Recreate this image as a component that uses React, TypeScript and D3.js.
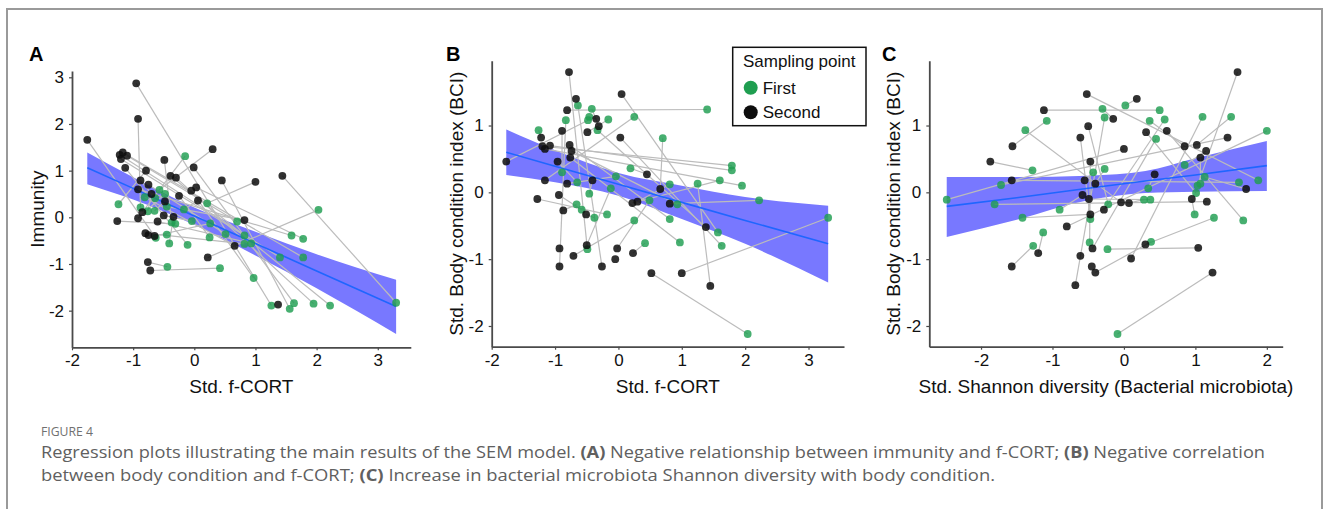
import React, { useEffect, useRef } from "react";
import * as d3 from "d3";

const FONT = "'Liberation Sans', Arial, Helvetica, sans-serif";
const CAPTION_FONT = "'Open Sans', 'Noto Sans', sans-serif";
const GREEN = "#1f9e50";
const BLACK = "#0d0d0d";

// ---- Panel A: immunity vs f-CORT (second = black, first = green) ----
const aSecondX = [-1.75, -0.95, -0.92, -1.22, -1.17, -1.1, -1.2, -1.13, -0.79, -0.49, 0.3, -0.01, -0.39, -0.3, -0.88, -0.75, -0.92, -0.7, -0.25, -0.05, 0.03, 0.06, -0.48, 0.45, 1.0, 1.44, -0.85, -0.5, -0.34, -1.26, -0.92, -0.6, 0.82, -0.8, -0.75, -0.65, 0.66, 0.22, -0.76, -0.72, 1.37];
const aSecondY = [1.66, 2.87, 2.11, 1.34, 1.39, 1.32, 1.25, 1.06, 1.0, 1.23, 1.46, 1.07, 0.89, 0.85, 0.79, 0.7, 0.6, 0.5, 0.46, 0.57, 0.64, 0.36, 0.34, 0.79, 0.76, 0.89, 0.11, 0.04, 0.01, -0.08, -0.02, -0.09, -0.06, -0.34, -0.38, -0.4, -0.61, -0.86, -0.96, -1.14, -1.87];
const aFirstX = [-0.63, 1.26, -0.88, 1.4, 1.78, 0.7, 0.82, -0.11, -1.24, -0.37, -0.57, 1.63, 2.22, 1.95, -0.64, 0.51, 1.59, -0.76, 0.25, 0.97, 1.78, -0.17, -0.65, 1.56, 0.21, 3.3, -0.15, -0.04, -0.41, -0.31, -0.48, 0.93, -0.45, 0.82, -0.45, 0.26, -0.81, 2.03, -0.44, 0.42, null];
const aFirstY = [-0.44, -1.89, 0.21, -0.86, -0.86, -0.09, -0.39, -0.59, 0.28, -0.11, 0.59, -1.84, -1.89, -1.85, 0.41, -0.36, -0.39, 0.13, -0.43, -1.3, -0.46, 0.17, 0.14, -1.96, 0.3, -1.83, 1.31, -0.08, -0.56, -0.14, 0.5, -0.56, 0.23, -0.57, -0.37, -0.13, 0.43, 0.16, -1.06, -1.09, null];
const aFitX = [-1.75, -1, 0, 1, 2, 3.3];
const aFitY = [1.06, 0.62, 0.03, -0.56, -1.15, -1.91];
const aFitLo = [0.71, 0.38, -0.16, -0.82, -1.52, -2.5];
const aFitHi = [1.39, 0.86, 0.21, -0.31, -0.79, -1.34];

// ---- Panel B: BCI vs f-CORT ----
const bSecondX = [-1.77, -0.78, 0.05, -0.67, -0.81, -0.89, -0.49, -0.35, -0.31, -1.22, -1.2, -1.16, -1.08, -0.77, -0.74, -0.76, -0.96, 0.03, -1.16, -0.81, -0.41, -1.28, -0.94, -0.87, -0.51, 0.45, 0.66, 0.22, 0.3, 0.81, 1.38, -0.93, -0.5, -0.71, -0.93, -0.26, -0.02, -0.05, 0.23, 0.52, 1.0, 1.45];
const bSecondY = [0.46, 1.8, 1.47, 1.4, 1.23, 0.92, 0.9, 1.1, 0.99, 0.82, 0.69, 0.65, 0.7, 0.71, 0.62, 0.52, 0.46, 0.82, 0.18, 0.13, 0.18, -0.1, -0.04, -0.27, -0.33, 0.27, 0.05, -0.16, -0.14, -0.17, -0.52, -0.84, -0.79, -0.95, -1.11, -1.11, -0.84, -1.0, -0.91, -1.21, -1.21, -1.4];
const bFirstX = [-0.48, -0.49, 1.57, null, 1.4, -0.89, -0.16, -0.46, -0.42, -1.26, 1.79, 1.95, 1.79, 0.81, 0.93, 0.97, -0.65, 1.63, 0.25, -0.04, -0.46, -0.18, -0.58, -0.66, -0.38, 0.19, 0.7, 1.6, 0.81, 2.22, -0.33, null, -0.12, 0.25, -0.83, -0.64, 0.49, null, 0.42, 2.04, 3.31, 1.25];
const bFirstY = [1.08, -0.85, -0.6, null, 1.24, 0.3, 1.09, 1.13, 1.25, 0.93, 0.4, 0.1, 0.33, -0.4, -0.18, -0.75, 0.15, -0.8, 1.13, 0.24, -0.02, -0.33, -0.26, -0.18, -0.38, 0.36, 0.81, 0.18, 0.12, -0.12, 0.93, null, 0.06, -0.42, 1.08, 1.3, -0.12, null, -0.76, -2.12, -0.38, 0.13];
const bFitX = [-1.77, -1, 0, 1, 2, 3.31];
const bFitY = [0.6, 0.39, 0.12, -0.15, -0.42, -0.77];
const bFitLo = [0.26, 0.15, -0.05, -0.4, -0.77, -1.35];
const bFitHi = [0.94, 0.63, 0.29, 0.1, -0.07, -0.2];

// ---- Panel C: BCI vs Shannon diversity ----
const cSecondX = [1.59, -0.52, 0.18, -1.12, -0.15, -0.5, 0.31, 0.6, -0.61, -1.56, 1.45, 0.0, 0.85, 1.02, 1.15, 1.07, -1.87, -0.47, 0.43, -1.57, -0.55, -0.4, -0.58, -0.49, -0.04, 0.07, 0.95, 1.16, 1.71, -0.28, -0.47, -0.8, -1.2, -0.44, 0.3, 1.04, -0.61, 0.1, -1.57, -0.45, -0.4, 1.24, -0.68];
const cSecondY = [1.8, 1.47, 1.4, 1.23, 1.1, 0.99, 0.9, 0.92, 0.82, 0.69, 0.82, 0.65, 0.69, 0.71, 0.62, 0.52, 0.46, 0.46, 0.27, 0.18, 0.18, 0.13, -0.04, -0.1, -0.15, -0.16, -0.1, -0.14, 0.05, -0.26, -0.33, -0.51, -0.91, -0.84, -0.78, -0.83, -0.95, -0.99, -1.11, -1.11, -1.2, -1.2, -1.39];
const cFirstX = [1.03, 1.88, 0.02, 0.5, -0.3, -0.22, 1.01, 1.67, -0.47, -1.08, -1.72, -2.48, 0.36, 1.5, 0.85, 1.07, -1.28, -0.48, 0.34, 1.61, -0.43, -0.27, -0.9, 0.37, -1.38, 0.28, 0.99, -1.81, 1.13, 0.57, -1.42, 2.0, -1.13, 0.45, 1.26, -0.23, null, 1.1, -1.27, null, 0.38, -0.09, -0.27];
const cFirstY = [0.1, 0.18, 1.3, 1.23, 1.25, -0.18, -0.01, -0.42, -0.4, 1.07, 0.11, -0.11, 1.07, 1.13, 0.41, 0.13, 0.33, -0.75, 0.06, 0.15, 0.3, 0.35, -0.26, -0.11, 0.93, -0.11, -0.33, -0.18, 0.23, 1.09, -0.38, 0.92, -0.6, 0.8, -0.38, -0.85, null, 1.13, -0.8, null, -0.74, -2.12, 1.12];
const cFitX = [-2.48, -1.5, -0.5, 0.3, 1.0, 2.0];
const cFitY = [-0.21, -0.08, 0.06, 0.17, 0.26, 0.4];
const cFitLo = [-0.67, -0.41, -0.12, -0.01, 0.01, 0.02];
const cFitHi = [0.23, 0.23, 0.25, 0.32, 0.51, 0.77];

const fCortTicks = [-2, -1, 0, 1, 2, 3];
const immunityTicks = [-2, -1, 0, 1, 2, 3];
const bciTicks = [-2, -1, 0, 1];
const shannonTicks = [-2, -1, 0, 1, 2];

const legendTitle = "Sampling point";
const legendItems = ["First", "Second"];

const captionHead = "FIGURE 4";
const captionLine1 = [
  { t: "Regression plots illustrating the main results of the SEM model. ", b: false },
  { t: "(A)", b: true },
  { t: " Negative relationship between immunity and f-CORT; ", b: false },
  { t: "(B)", b: true },
  { t: " Negative correlation", b: false },
];
const captionLine2 = [
  { t: "between body condition and f-CORT; ", b: false },
  { t: "(C)", b: true },
  { t: " Increase in bacterial microbiota Shannon diversity with body condition.", b: false },
];

const panels = [
  {
    label: "A", labelX: 29,
    xDomain: [-2, 3.54], xRange: [72, 410.8], yDomain: [-2.785, 3.135], yRange: [347.3, 71],
    xTicks: fCortTicks, yTicks: immunityTicks,
    xTitle: "Std. f-CORT", yTitle: "Immunity", yTitleX: 44,
    sx: aSecondX, sy: aSecondY, fx: aFirstX, fy: aFirstY,
    fitX: aFitX, fitY: aFitY, fitLo: aFitLo, fitHi: aFitHi,
  },
  {
    label: "B", labelX: 446,
    xDomain: [-2, 3.56], xRange: [491.7, 844], yDomain: [-2.31, 1.97], yRange: [346.7, 60.7],
    xTicks: fCortTicks, yTicks: bciTicks,
    xTitle: "Std. f-CORT", yTitle: "Std. Body condition index (BCI)", yTitleX: 463,
    sx: bSecondX, sy: bSecondY, fx: bFirstX, fy: bFirstY,
    fitX: bFitX, fitY: bFitY, fitLo: bFitLo, fitHi: bFitHi,
  },
  {
    label: "C", labelX: 882,
    xDomain: [-2.724, 2.222], xRange: [929.3, 1282.7], yDomain: [-2.31, 1.97], yRange: [346.7, 60.7],
    xTicks: shannonTicks, yTicks: bciTicks,
    xTitle: "Std. Shannon diversity (Bacterial microbiota)", yTitle: "Std. Body condition index (BCI)", yTitleX: 900,
    sx: cSecondX, sy: cSecondY, fx: cFirstX, fy: cFirstY,
    fitX: cFitX, fitY: cFitY, fitLo: cFitLo, fitHi: cFitHi,
  },
];

function styleAxis(g) {
  g.attr("font-size", 17).attr("font-family", FONT);
  g.select(".domain").attr("stroke", "#4a4a4a").attr("stroke-width", 1.8);
  g.selectAll(".tick line").attr("stroke", "#4a4a4a").attr("stroke-width", 1.2);
  g.selectAll(".tick text").attr("fill", "#111");
}

function Panel({ p }) {
  const xAxisRef = useRef(null);
  const yAxisRef = useRef(null);
  const x = d3.scaleLinear().domain(p.xDomain).range(p.xRange);
  const y = d3.scaleLinear().domain(p.yDomain).range(p.yRange);
  const xBase = p.yRange[0];
  const yBase = p.xRange[0];

  useEffect(() => {
    const gx = d3.select(xAxisRef.current);
    gx.call(d3.axisBottom(x).tickValues(p.xTicks).tickSize(3).tickSizeOuter(0).tickPadding(4).tickFormat((d) => String(d)));
    styleAxis(gx);
    const gy = d3.select(yAxisRef.current);
    gy.call(d3.axisLeft(y).tickValues(p.yTicks).tickSize(3).tickSizeOuter(0).tickPadding(5).tickFormat((d) => String(d)));
    styleAxis(gy);
  }, []);

  const fit = p.fitX.map((v, i) => ({ x: v, y: p.fitY[i], lo: p.fitLo[i], hi: p.fitHi[i] }));
  const band = d3.area().x((d) => x(d.x)).y0((d) => y(d.lo)).y1((d) => y(d.hi)).curve(d3.curveMonotoneX)(fit);
  const line = d3.line().x((d) => x(d.x)).y((d) => y(d.y))(fit);

  const birds = p.sx.map((v, i) => ({ sx: v, sy: p.sy[i], fx: p.fx[i], fy: p.fy[i] }));
  const midX = (p.xRange[0] + p.xRange[1]) / 2;
  const midY = (p.yRange[0] + p.yRange[1]) / 2;

  return (
    <g>
      <text x={p.labelX} y={61} fontSize={20} fontWeight="bold" fontFamily={FONT} fill="#000">{p.label}</text>
      <path d={band} fill="#7878ff" />
      <g stroke="#bcbcbc" strokeWidth={1.2}>
        {birds.filter((b) => b.fx !== null).map((b, i) => (
          <line key={i} x1={x(b.sx)} y1={y(b.sy)} x2={x(b.fx)} y2={y(b.fy)} />
        ))}
      </g>
      <path d={line} fill="none" stroke="#1f66ff" strokeWidth={1.6} />
      <g fill={GREEN} fillOpacity={0.82}>
        {birds.filter((b) => b.fx !== null).map((b, i) => (
          <circle key={i} cx={x(b.fx)} cy={y(b.fy)} r={3.9} />
        ))}
      </g>
      <g fill={BLACK} fillOpacity={0.85}>
        {birds.map((b, i) => (
          <circle key={i} cx={x(b.sx)} cy={y(b.sy)} r={3.9} />
        ))}
      </g>
      <g ref={xAxisRef} transform={`translate(0,${xBase})`} />
      <g ref={yAxisRef} transform={`translate(${yBase},0)`} />
      <text x={midX} y={393} textAnchor="middle" fontSize={19} fontFamily={FONT} fill="#111">{p.xTitle}</text>
      <text transform={`translate(${p.yTitleX},${midY}) rotate(-90)`} textAnchor="middle" fontSize={19} fontFamily={FONT} fill="#111">{p.yTitle}</text>
    </g>
  );
}

function Legend() {
  return (
    <g fontFamily={FONT} fontSize={17} fill="#111">
      <rect x={732.7} y={47.3} width={133.3} height={78.4} fill="#fff" stroke="#111" strokeWidth={1.5} />
      <text x={743} y={67}>{legendTitle}</text>
      {legendItems.map((t, i) => (
        <g key={t}>
          <circle cx={750.7} cy={87.7 + i * 24.6} r={7} fill={i === 0 ? GREEN : BLACK} />
          <text x={762.7} y={93.7 + i * 24.6}>{t}</text>
        </g>
      ))}
    </g>
  );
}

function Caption() {
  return (
    <g fontFamily={CAPTION_FONT} fill="#606060">
      <text x={41} y={436} fontSize={12} fill="#707070" textLength={52} lengthAdjust="spacingAndGlyphs">{captionHead}</text>
      <text x={41} y={458} fontSize={16.5} textLength={1224} lengthAdjust="spacingAndGlyphs">
        {captionLine1.map((s, i) => (
          <tspan key={i} fontWeight={s.b ? "bold" : "normal"}>{s.t}</tspan>
        ))}
      </text>
      <text x={41} y={481} fontSize={16.5} textLength={954} lengthAdjust="spacingAndGlyphs">
        {captionLine2.map((s, i) => (
          <tspan key={i} fontWeight={s.b ? "bold" : "normal"}>{s.t}</tspan>
        ))}
      </text>
    </g>
  );
}

export default function App() {
  return (
    <svg width={1330} height={509} style={{ position: "absolute", left: 0, top: 0, background: "#fff" }} xmlSpace="preserve">
      <rect x={7} y={9} width={1315} height={540} fill="none" stroke="#9a9a9a" strokeWidth={2} />
      {panels.map((p) => (
        <Panel key={p.label} p={p} />
      ))}
      <Legend />
      <Caption />
    </svg>
  );
}
